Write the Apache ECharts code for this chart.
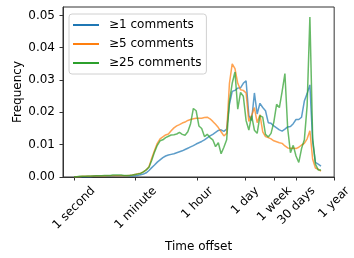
<!DOCTYPE html>
<html>
<head>
<meta charset="utf-8">
<script src="https://cdn.jsdelivr.net/npm/echarts@6/dist/echarts.min.js"></script>
<style>html,body{margin:0;padding:0;background:#fff}#main{width:354px;height:258px}</style>
</head>
<body>
<div id="main"></div>
<script>
// bin positions: log10 of the time offset in seconds
var logOffset = [
  0.00, 0.08, 0.16, 0.24, 0.32, 0.40, 0.48, 0.56, 0.64, 0.72,
  0.80, 0.88, 0.96, 1.04, 1.12, 1.20, 1.28, 1.36, 1.44, 1.52,
  1.60, 1.68, 1.76, 1.84, 1.92, 2.00, 2.08, 2.16, 2.24, 2.32,
  2.40, 2.48, 2.56, 2.64, 2.72, 2.80, 2.88, 2.96, 3.04, 3.12,
  3.20, 3.28, 3.36, 3.44, 3.52, 3.60, 3.68, 3.76, 3.84, 3.92,
  4.00, 4.08, 4.16, 4.24, 4.32, 4.40, 4.48, 4.56, 4.64, 4.72,
  4.80, 4.88, 4.96, 5.04, 5.12, 5.20, 5.28, 5.36, 5.44, 5.52,
  5.60, 5.68, 5.76, 5.84, 5.92, 6.00, 6.08, 6.16, 6.24, 6.32,
  6.40, 6.48, 6.56, 6.64, 6.72, 6.80, 6.88, 6.96, 7.04, 7.12
];

var freqMin1 = [
  0.0001, 0.0001, 0.0001, 0.0001, 0.0001, 0.0001, 0.0001, 0.0002, 0.0002, 0.0002,
  0.0002, 0.0002, 0.0002, 0.0002, 0.0002, 0.0003, 0.0003, 0.0003, 0.0003, 0.0003,
  0.0003, 0.0003, 0.0004, 0.0005, 0.0007, 0.0009, 0.0013, 0.0020, 0.0029, 0.0037,
  0.0046, 0.0053, 0.0060, 0.0065, 0.0068, 0.0070, 0.0072, 0.0075, 0.0078, 0.0081,
  0.0085, 0.0089, 0.0093, 0.0097, 0.0102, 0.0106, 0.0110, 0.0115, 0.0121, 0.0127,
  0.0132, 0.0138, 0.0144, 0.0146, 0.0141, 0.0148, 0.0225, 0.0265, 0.0268, 0.0275,
  0.0276, 0.0290, 0.0298, 0.0190, 0.0175, 0.0260, 0.0195, 0.0228, 0.0215, 0.0205,
  0.0168, 0.0166, 0.0158, 0.0152, 0.0146, 0.0142, 0.0148, 0.0155, 0.0156, 0.0165,
  0.0178, 0.0178, 0.0185, 0.0235, 0.0258, 0.0285, 0.0110, 0.0045, 0.0040, 0.0034
];

var freqMin5 = [
  0.0001, 0.0001, 0.0001, 0.0002, 0.0002, 0.0002, 0.0002, 0.0003, 0.0003, 0.0003,
  0.0003, 0.0003, 0.0004, 0.0004, 0.0004, 0.0004, 0.0004, 0.0004, 0.0004, 0.0004,
  0.0005, 0.0006, 0.0008, 0.0010, 0.0012, 0.0016, 0.0022, 0.0032, 0.0058, 0.0082,
  0.0104, 0.0118, 0.0124, 0.0130, 0.0133, 0.0143, 0.0152, 0.0158, 0.0162, 0.0167,
  0.0170, 0.0175, 0.0178, 0.0180, 0.0182, 0.0182, 0.0182, 0.0184, 0.0185, 0.0180,
  0.0172, 0.0163, 0.0153, 0.0140, 0.0127, 0.0135, 0.0290, 0.0350, 0.0335, 0.0290,
  0.0270, 0.0268, 0.0260, 0.0172, 0.0190, 0.0215, 0.0168, 0.0193, 0.0140, 0.0125,
  0.0122, 0.0118, 0.0112, 0.0109, 0.0106, 0.0104, 0.0096, 0.0090, 0.0089, 0.0089,
  0.0088, 0.0092, 0.0099, 0.0104, 0.0118, 0.0143, 0.0055, 0.0028, 0.0024, 0.0018
];

var freqMin25 = [
  0.0001, 0.0001, 0.0002, 0.0002, 0.0002, 0.0003, 0.0003, 0.0003, 0.0004, 0.0004,
  0.0004, 0.0005, 0.0005, 0.0005, 0.0006, 0.0006, 0.0006, 0.0006, 0.0005, 0.0005,
  0.0005, 0.0006, 0.0008, 0.0009, 0.0011, 0.0016, 0.0022, 0.0030, 0.0052, 0.0077,
  0.0098, 0.0112, 0.0115, 0.0122, 0.0126, 0.0130, 0.0131, 0.0133, 0.0138, 0.0132,
  0.0129, 0.0140, 0.0165, 0.0212, 0.0205, 0.0158, 0.0150, 0.0125, 0.0132, 0.0122,
  0.0115, 0.0094, 0.0106, 0.0072, 0.0092, 0.0115, 0.0235, 0.0290, 0.0325, 0.0210,
  0.0262, 0.0250, 0.0175, 0.0145, 0.0190, 0.0145, 0.0135, 0.0190, 0.0185, 0.0132,
  0.0124, 0.0135, 0.0170, 0.0225, 0.0215, 0.0265, 0.0320, 0.0150, 0.0075, 0.0098,
  0.0065, 0.0045, 0.0088, 0.0115, 0.0220, 0.0495, 0.0120, 0.0040, 0.0022, 0.0022
];

var seriesNames = ['≥1 comments', '≥5 comments', '≥25 comments'];
var tickNames = ['1 second', '1 minute', '1 hour', '1 day', '1 week', '30 days', '1 year'];
var tickSeconds = [1, 60, 3600, 86400, 604800, 2592000, 31536000];
var yTicks = [0, 0.01, 0.02, 0.03, 0.04, 0.05];

var FONT = 'DejaVu Sans';
var X_MIN = -0.319;
var X_MAX = Math.log10(31536000) + 0.001;
var tickLog = tickSeconds.map(function (s) { return Math.log10(s); });
// blank guard labels at both ends: echarts only runs its min/max overlap
// check on the first and last label, and these get dropped instead
var xLabelValues = [X_MIN].concat(tickLog, [X_MAX]);

// rotated x labels are centred under their tick, like matplotlib does
var ctx = document.createElement('canvas').getContext('2d');
ctx.font = '12px "' + FONT + '"';
var rich = {};
tickNames.forEach(function (t, i) {
  var w = ctx.measureText(t).width;
  var s = (w + 14) / 4;
  var boxW = 10;
  var left = (boxW - w) / 2 - s;
  var right = (boxW - w) / 2 + s;
  rich['t' + i] = { padding: [s, right, -s, left], fontSize: 12, fontFamily: FONT, color: '#000', lineHeight: 14 };
});

function pairs(ys) {
  return ys.map(function (y, i) { return [logOffset[i], y]; });
}

var colors = ['#1f77b4', '#ff7f0e', '#2ca02c'];
var allSeries = [freqMin1, freqMin5, freqMin25].map(function (ys, k) {
  return {
    name: seriesNames[k],
    type: 'line',
    data: pairs(ys),
    showSymbol: false,
    symbol: 'none',
    color: colors[k],
    lineStyle: { width: 1.5, opacity: 0.72 },
    animation: false
  };
});

var chart = echarts.init(document.getElementById('main'));
chart.setOption({
  animation: false,
  textStyle: { fontFamily: FONT },
  grid: { left: 63, right: 14, top: 7, bottom: 77, show: true, borderColor: '#333', borderWidth: 1 },
  legend: {
    orient: 'vertical',
    left: 69,
    top: 14,
    padding: [4, 5, 4, 4],
    itemGap: 5,
    itemWidth: 26,
    itemHeight: 2,
    icon: 'rect',
    borderColor: '#d0d0d0',
    borderWidth: 1,
    borderRadius: 3,
    backgroundColor: 'rgba(255,255,255,0.8)',
    textStyle: { fontSize: 12, fontFamily: FONT, color: '#000', lineHeight: 14, padding: [0, 0, 0, 5] },
    data: seriesNames
  },
  xAxis: {
    type: 'value',
    min: X_MIN,
    max: X_MAX,
    name: 'Time offset',
    nameLocation: 'middle',
    nameGap: 64,
    nameMoveOverlap: false,
    nameTextStyle: { fontSize: 12, fontFamily: FONT, color: '#000' },
    splitLine: { show: false },
    axisLine: { show: true, onZero: false, lineStyle: { color: '#333', width: 1 } },
    axisTick: { show: true, length: 3.5, lineStyle: { color: '#333' }, customValues: xLabelValues },
    axisLabel: {
      customValues: xLabelValues,
      showMinLabel: false,
      showMaxLabel: false,
      hideOverlap: false,
      rotate: 45,
      align: 'center',
      verticalAlign: 'middle',
      margin: 7,
      rich: rich,
      formatter: function (v) {
        for (var i = 0; i < tickLog.length; i++) {
          if (Math.abs(tickLog[i] - v) < 1e-6) return '{t' + i + '|' + tickNames[i] + '}';
        }
        return ' ';
      }
    }
  },
  yAxis: {
    type: 'value',
    min: 0,
    max: 0.0526,
    name: 'Frequency',
    nameLocation: 'middle',
    nameGap: 39,
    nameMoveOverlap: false,
    nameTextStyle: { fontSize: 12, fontFamily: FONT, color: '#000' },
    splitLine: { show: false },
    axisLine: { show: true, onZero: false, lineStyle: { color: '#333', width: 1 } },
    axisTick: { show: true, length: 3.5, lineStyle: { color: '#333' }, customValues: yTicks },
    axisLabel: {
      customValues: yTicks,
      showMinLabel: true,
      showMaxLabel: true,
      margin: 8,
      fontSize: 12,
      fontFamily: FONT,
      color: '#000',
      formatter: function (v) { return v.toFixed(2); }
    }
  },
  series: allSeries
});
</script>
</body>
</html>
